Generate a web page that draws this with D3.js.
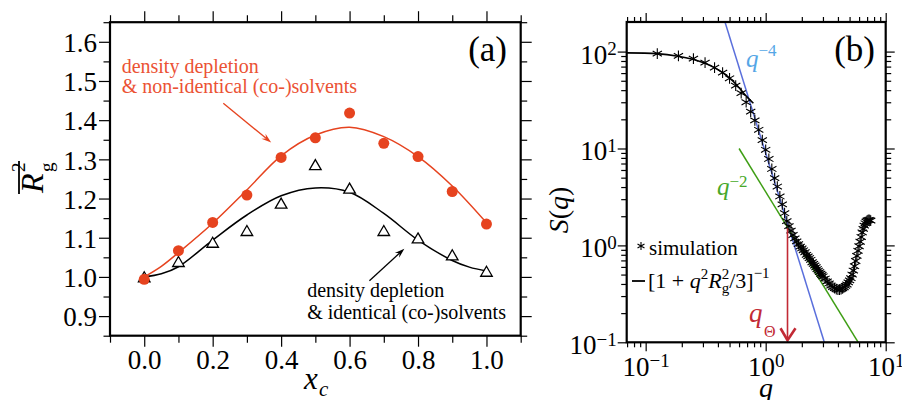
<!DOCTYPE html>
<html>
<head>
<meta charset="utf-8">
<script src="https://cdn.jsdelivr.net/npm/d3@7/dist/d3.min.js"></script>
<style>
  body { margin: 0; background: #fff; }
  svg { display: block; }
  .tick line { stroke: #000; stroke-width: 1.2; }
</style>
</head>
<body>
<div id="chart"></div>
<script>
var FONT = "'Liberation Serif', 'Times New Roman', 'DejaVu Serif', serif";

// ---- panel (a): mean squared radius of gyration vs x_c
var xc = [0.0, 0.1, 0.2, 0.3, 0.4, 0.5, 0.6, 0.7, 0.8, 0.9, 1.0];
var rgNonIdentical = [0.994, 1.067, 1.139, 1.209, 1.305, 1.355, 1.418, 1.341, 1.307, 1.218, 1.135];
var rgIdentical = [1.0, 1.039, 1.088, 1.118, 1.188, 1.286, 1.226, 1.118, 1.099, 1.056, 1.014];
var fitNonX = [0.0, 0.05, 0.1, 0.2, 0.3, 0.4, 0.5, 0.6, 0.7, 0.8, 0.9, 1.0];
var fitNonY = [1.0, 1.027, 1.062, 1.137, 1.222, 1.309, 1.362, 1.382, 1.358, 1.307, 1.232, 1.138];
var fitIdX = [0.0, 0.05, 0.1, 0.2, 0.3, 0.4, 0.5, 0.6, 0.7, 0.8, 0.9, 0.95, 1.0];
var fitIdY = [1.0, 1.008, 1.026, 1.094, 1.158, 1.207, 1.227, 1.216, 1.162, 1.094, 1.042, 1.025, 1.015];
var xTicksA = [0.0, 0.2, 0.4, 0.6, 0.8, 1.0];
var xMinorA = [-0.1, 0.1, 0.3, 0.5, 0.7, 0.9, 1.1];
var yTicksA = [0.9, 1.0, 1.1, 1.2, 1.3, 1.4, 1.5, 1.6];
var yMinorA = [0.85, 0.95, 1.05, 1.15, 1.25, 1.35, 1.45, 1.55, 1.65];

// ---- panel (b): structure factor
var simQ = [0.125, 0.1875, 0.25, 0.3125, 0.375, 0.4375, 0.5, 0.5625, 0.625, 0.6875, 0.75, 0.8125,
  0.875, 0.9375, 1.0, 1.0625, 1.125, 1.1875, 1.25, 1.3125, 1.375, 1.4375, 1.5, 1.5625, 1.625, 1.6875,
  1.75, 1.8125, 1.875, 1.9375, 2.0, 2.0625, 2.125, 2.1875, 2.25, 2.3125, 2.375, 2.4375, 2.5, 2.5625,
  2.625, 2.6875, 2.75, 2.8125, 2.875, 2.9375, 3.0, 3.125, 3.25, 3.375, 3.5, 3.625, 3.75, 3.875, 4.0,
  4.125, 4.25, 4.375, 4.5, 4.625, 4.75, 4.875, 5.0, 5.125, 5.25, 5.375, 5.5, 5.625, 5.75, 5.875, 6.0,
  6.125, 6.25, 6.375, 6.5, 6.625, 6.75, 6.875, 7.0, 7.125, 7.25, 7.375, 7.5];
var simS = [95.3, 90.2, 84.6, 76.9, 68.3, 60.7, 53.0, 44.5, 37.3, 30.0, 24.0, 19.5,
  15.6, 12.2, 9.7, 7.8, 6.15, 4.95, 4.05, 3.2, 2.65, 2.15, 1.78, 1.58, 1.42, 1.28,
  1.18, 1.10, 1.03, 0.97, 0.93, 0.89, 0.85, 0.80, 0.77, 0.74, 0.71, 0.67, 0.645, 0.62,
  0.595, 0.57, 0.55, 0.53, 0.51, 0.495, 0.48, 0.455, 0.425, 0.405, 0.385, 0.372, 0.362, 0.354, 0.350,
  0.350, 0.353, 0.360, 0.370, 0.382, 0.395, 0.415, 0.435, 0.46, 0.50, 0.55, 0.61, 0.69, 0.78, 0.88, 0.98,
  1.09, 1.22, 1.36, 1.48, 1.60, 1.69, 1.76, 1.80, 1.82, 1.83, 1.82, 1.80];
var fitQ = [0.0695, 0.124, 0.187, 0.246, 0.312, 0.373, 0.438, 0.507, 0.576, 0.643, 0.708, 0.79];
var fitS = [97.0, 95.3, 89.5, 83.4, 75.9, 68.3, 60.7, 52.6, 45.0, 38.3, 33.5, 29.3];
var q4Q = [0.458, 3.08], q4S = [202, 0.1];
var q2Q = [0.6, 5.9], q2S = [10, 0.1];
var qTheta = 1.52, qThetaS = [1.5, 0.105];
var decadesX = [0.1, 1, 10];
var decadesY = [0.1, 1, 10, 100];

var red = "#e6431f", redText = "#eb5234", blue = "#5a6fdc", blueText = "#55a6e6",
    green = "#3e9e14", greenText = "#47a82a", dark = "#c22a35";

var svg = d3.select("#chart").append("svg").attr("width", 902).attr("height", 400)
  .attr("font-family", FONT);

function arrow(g, p1, p2, color) {
  var a = Math.atan2(p2[1] - p1[1], p2[0] - p1[0]), L = 10, W = 3.2;
  var cx = Math.cos(a), cy = Math.sin(a);
  g.append("line").attr("x1", p1[0]).attr("y1", p1[1])
    .attr("x2", p2[0] - cx * 5).attr("y2", p2[1] - cy * 5)
    .attr("stroke", color).attr("stroke-width", 1.3);
  var bx = p2[0] - cx * L, by = p2[1] - cy * L;
  g.append("path").attr("fill", color)
    .attr("d", "M" + p2[0] + "," + p2[1] + "L" + (bx - cy * W) + "," + (by + cx * W) +
      "L" + (p2[0] - cx * L * 0.65) + "," + (p2[1] - cy * L * 0.65) +
      "L" + (bx + cy * W) + "," + (by - cx * W) + "Z");
}

function styleAxis(sel) {
  sel.attr("font-family", FONT);
  sel.select(".domain").remove();
  sel.selectAll("text").attr("fill", "#000").attr("font-family", FONT);
}

// ================= panel (a) =================
var xA = d3.scaleLinear().domain([-0.1, 1.1]).range([110, 520.7]);
var yA = d3.scaleLinear().domain([0.85, 1.65]).range([335.7, 22.2]);
var gA = svg.append("g");

gA.append("g").attr("transform", "translate(0,335.7)")
  .call(d3.axisBottom(xA).tickValues(xTicksA).tickSize(11).tickPadding(3).tickFormat(d3.format(".1f")))
  .call(styleAxis).selectAll("text").style("font-size", "27px");
gA.append("g").attr("transform", "translate(0,335.7)")
  .call(d3.axisBottom(xA).tickValues(xMinorA).tickSize(7).tickFormat("")).call(styleAxis);
gA.append("g").attr("transform", "translate(0,22.2)")
  .call(d3.axisTop(xA).tickValues(xTicksA).tickSize(11).tickFormat("")).call(styleAxis);
gA.append("g").attr("transform", "translate(0,22.2)")
  .call(d3.axisTop(xA).tickValues(xMinorA).tickSize(7).tickFormat("")).call(styleAxis);
gA.append("g").attr("transform", "translate(110,0)")
  .call(d3.axisLeft(yA).tickValues(yTicksA).tickSize(11).tickPadding(2).tickFormat(d3.format(".1f")))
  .call(styleAxis).selectAll("text").style("font-size", "27px").attr("dy", "0.36em");
gA.append("g").attr("transform", "translate(110,0)")
  .call(d3.axisLeft(yA).tickValues(yMinorA).tickSize(6.5).tickFormat("")).call(styleAxis);
gA.append("g").attr("transform", "translate(520.7,0)")
  .call(d3.axisRight(yA).tickValues(yTicksA).tickSize(11).tickFormat("")).call(styleAxis);
gA.append("g").attr("transform", "translate(520.7,0)")
  .call(d3.axisRight(yA).tickValues(yMinorA).tickSize(6.5).tickFormat("")).call(styleAxis);

var lineA = d3.line().x(function(d) { return xA(d[0]); }).y(function(d) { return yA(d[1]); })
  .curve(d3.curveCatmullRom.alpha(0.5));
gA.append("path").datum(d3.zip(fitIdX, fitIdY)).attr("d", lineA)
  .attr("fill", "none").attr("stroke", "#000").attr("stroke-width", 1.5);
gA.append("path").datum(d3.zip(fitNonX, fitNonY)).attr("d", lineA)
  .attr("fill", "none").attr("stroke", red).attr("stroke-width", 1.5);

gA.selectAll(".tri").data(d3.zip(xc, rgIdentical)).enter().append("path")
  .attr("d", d3.symbol().type(d3.symbolTriangle).size(58))
  .attr("transform", function(d) { return "translate(" + xA(d[0]) + "," + (yA(d[1]) + 1.5) + ")"; })
  .attr("fill", "#fff").attr("stroke", "#000").attr("stroke-width", 1.3);
gA.selectAll(".dot").data(d3.zip(xc, rgNonIdentical)).enter().append("circle")
  .attr("cx", function(d) { return xA(d[0]); }).attr("cy", function(d) { return yA(d[1]); })
  .attr("r", 5.5).attr("fill", red);

gA.append("rect").attr("x", 110).attr("y", 22.2).attr("width", 410.7).attr("height", 313.5)
  .attr("fill", "none").attr("stroke", "#000").attr("stroke-width", 2.2);

// annotations
var tRed = gA.append("text").attr("fill", redText).style("font-size", "20px");
tRed.append("tspan").attr("x", xA(-0.066)).attr("y", yA(1.52)).text("density depletion");
tRed.append("tspan").attr("x", xA(-0.066)).attr("y", yA(1.469)).text("& non-identical (co-)solvents");
arrow(gA, [xA(0.231), yA(1.443)], [xA(0.371), yA(1.343)], red);

var tBlk = gA.append("text").attr("fill", "#000").style("font-size", "20px");
tBlk.append("tspan").attr("x", xA(0.476)).attr("y", yA(0.95)).text("density depletion");
tBlk.append("tspan").attr("x", xA(0.476)).attr("y", yA(0.893)).text("& identical (co-)solvents");
arrow(gA, [xA(0.658), yA(0.99)], [xA(0.76), yA(1.072)], "#000");

gA.append("text").attr("x", 507).attr("y", 61).attr("text-anchor", "end")
  .style("font-size", "35px").text("(a)");

// axis titles
gA.append("text").attr("x", 304).attr("y", 389).style("font-size", "31px")
  .style("font-style", "italic").text("x");
gA.append("text").attr("x", 319).attr("y", 396).style("font-size", "21px")
  .style("font-style", "italic").text("c");

var rg = gA.append("g").attr("transform", "translate(43,195) rotate(-90)");
rg.append("text").attr("x", 2).attr("y", 0).style("font-size", "32px").style("font-style", "italic").text("R");
rg.append("line").attr("x1", 1).attr("x2", 34).attr("y1", -24).attr("y2", -24)
  .attr("stroke", "#000").attr("stroke-width", 1.8);
rg.append("text").attr("x", 23).attr("y", -18).style("font-size", "19px").text("2");
rg.append("text").attr("x", 23).attr("y", 10).style("font-size", "19px").text("g");

// ================= panel (b) =================
var xB = d3.scaleLog().domain([0.0695, 10]).range([626.7, 885.7]);
var yB = d3.scaleLog().domain([0.1, 202]).range([342.3, 22]);
var gB = svg.append("g");

var minorX = [], minorY = [];
[0.01, 0.1, 1].forEach(function(p) {
  for (var k = 2; k <= 9; k++) { var v = +(k * p).toPrecision(3); if (v >= 0.0695 && v <= 10) minorX.push(v); }
});
[0.1, 1, 10, 100].forEach(function(p) {
  for (var k = 2; k <= 9; k++) { var v = +(k * p).toPrecision(3); if (v < 199) minorY.push(v); }
});
var expLabel = { 0.1: "\u22121", 1: "0", 10: "1", 100: "2" };

gB.append("g").attr("transform", "translate(0,342.3)")
  .call(d3.axisBottom(xB).tickValues(decadesX).tickSize(9).tickPadding(6).tickFormat(""))
  .call(styleAxis)
  .selectAll("text").style("font-size", "27px").each(function(d) {
    var t = d3.select(this);
    t.append("tspan").text("10");
    t.append("tspan").attr("dy", "-9.5").style("font-size", "19px").text(expLabel[d]);
  });
gB.append("g").attr("transform", "translate(0,342.3)")
  .call(d3.axisBottom(xB).tickValues(minorX).tickSize(5).tickFormat("")).call(styleAxis);
gB.append("g").attr("transform", "translate(0,22)")
  .call(d3.axisTop(xB).tickValues(decadesX).tickSize(9).tickFormat("")).call(styleAxis);
gB.append("g").attr("transform", "translate(0,22)")
  .call(d3.axisTop(xB).tickValues(minorX).tickSize(5).tickFormat("")).call(styleAxis);
gB.append("g").attr("transform", "translate(626.7,0)")
  .call(d3.axisLeft(yB).tickValues(decadesY).tickSize(9).tickPadding(1).tickFormat(""))
  .call(styleAxis)
  .selectAll("text").style("font-size", "27px").attr("dy", "11.5").each(function(d) {
    var t = d3.select(this);
    t.append("tspan").text("10");
    t.append("tspan").attr("dy", "-8.5").style("font-size", "19px").text(expLabel[d]);
  });
gB.append("g").attr("transform", "translate(626.7,0)")
  .call(d3.axisLeft(yB).tickValues(minorY).tickSize(5.5).tickFormat("")).call(styleAxis);
gB.append("g").attr("transform", "translate(885.7,0)")
  .call(d3.axisRight(yB).tickValues(decadesY).tickSize(9).tickFormat("")).call(styleAxis);
gB.append("g").attr("transform", "translate(885.7,0)")
  .call(d3.axisRight(yB).tickValues(minorY).tickSize(5.5).tickFormat("")).call(styleAxis);

svg.append("clipPath").attr("id", "clipB").append("rect")
  .attr("x", 626.7).attr("y", 22).attr("width", 259).attr("height", 320.3);
var plotB = gB.append("g").attr("clip-path", "url(#clipB)");
var lineB = d3.line().x(function(d) { return xB(d[0]); }).y(function(d) { return yB(d[1]); });

plotB.append("path").datum(d3.zip(q4Q, q4S)).attr("d", lineB)
  .attr("fill", "none").attr("stroke", blue).attr("stroke-width", 1.5);
plotB.append("path").datum(d3.zip(q2Q, q2S)).attr("d", lineB)
  .attr("fill", "none").attr("stroke", green).attr("stroke-width", 1.5);
plotB.append("path").datum(d3.zip(fitQ, fitS)).attr("d", lineB.curve(d3.curveCatmullRom))
  .attr("fill", "none").attr("stroke", "#000").attr("stroke-width", 1.6);

var star = d3.symbol().type(d3.symbolAsterisk).size(80);
plotB.selectAll(".star").data(d3.zip(simQ, simS)).enter().append("path")
  .attr("d", star)
  .attr("transform", function(d) { return "translate(" + xB(d[0]) + "," + yB(d[1]) + ")"; })
  .attr("fill", "none").attr("stroke", "#000").attr("stroke-width", 1.1);

// q_theta arrow
var xt = xB(qTheta), yt1 = yB(qThetaS[0]), yt2 = yB(qThetaS[1]);
gB.append("line").attr("x1", xt).attr("x2", xt).attr("y1", yt1).attr("y2", yt2 - 1)
  .attr("stroke", dark).attr("stroke-width", 1.6);
gB.append("path").attr("d", "M" + (xt - 7) + "," + (yt2 - 12) + "L" + xt + "," + yt2 + "L" + (xt + 8) + "," + (yt2 - 12))
  .attr("fill", "none").attr("stroke", dark).attr("stroke-width", 2.6);
gB.append("text").attr("x", 749).attr("y", 322).attr("fill", dark).style("font-size", "27px")
  .style("font-style", "italic").text("q");
gB.append("text").attr("x", 764).attr("y", 337).attr("fill", dark).style("font-size", "16px").text("\u0398");

// line labels
var t4 = gB.append("text").attr("x", 746).attr("y", 67).attr("fill", blueText).style("font-size", "25px");
t4.append("tspan").style("font-style", "italic").text("q");
t4.append("tspan").attr("dy", "-11").style("font-size", "17px").text("\u22124");
var t2 = gB.append("text").attr("x", 717).attr("y", 195).attr("fill", greenText).style("font-size", "25px");
t2.append("tspan").style("font-style", "italic").text("q");
t2.append("tspan").attr("dy", "-8").style("font-size", "17px").text("\u22122");

// legend
gB.append("path").attr("d", d3.symbol().type(d3.symbolAsterisk).size(45))
  .attr("transform", "translate(641,246)").attr("fill", "none").attr("stroke", "#000").attr("stroke-width", 1.1);
gB.append("text").attr("x", 649).attr("y", 255).style("font-size", "21px").text("simulation");
gB.append("line").attr("x1", 632).attr("x2", 645).attr("y1", 281).attr("y2", 281)
  .attr("stroke", "#000").attr("stroke-width", 1.8);
var leg = gB.append("text").attr("x", 648).attr("y", 288).style("font-size", "22px");
leg.append("tspan").text("[1 + ");
leg.append("tspan").style("font-style", "italic").text("q");
leg.append("tspan").attr("dy", "-9").style("font-size", "15px").text("2");
leg.append("tspan").attr("dy", "9").style("font-style", "italic").text("R");
leg.append("tspan").attr("dy", "5").style("font-size", "15px").text("g");
leg.append("tspan").attr("dx", "-7.5").attr("dy", "-14").style("font-size", "15px").text("2");
leg.append("tspan").attr("dy", "9").text("/3]");
leg.append("tspan").attr("dy", "-10").style("font-size", "15px").text("\u22121");

gB.append("rect").attr("x", 626.7).attr("y", 22).attr("width", 259).attr("height", 320.3)
  .attr("fill", "none").attr("stroke", "#000").attr("stroke-width", 2.2);

gB.append("text").attr("x", 875).attr("y", 61).attr("text-anchor", "end")
  .style("font-size", "35px").text("(b)");

// axis titles
gB.append("text").attr("x", 759).attr("y", 397).style("font-size", "28px")
  .style("font-style", "italic").text("q");
var sq = gB.append("text").attr("transform", "translate(568,210) rotate(-90)")
  .attr("text-anchor", "middle").style("font-size", "28px");
sq.append("tspan").style("font-style", "italic").text("S");
sq.append("tspan").text("(");
sq.append("tspan").style("font-style", "italic").text("q");
sq.append("tspan").text(")");
</script>
</body>
</html>
